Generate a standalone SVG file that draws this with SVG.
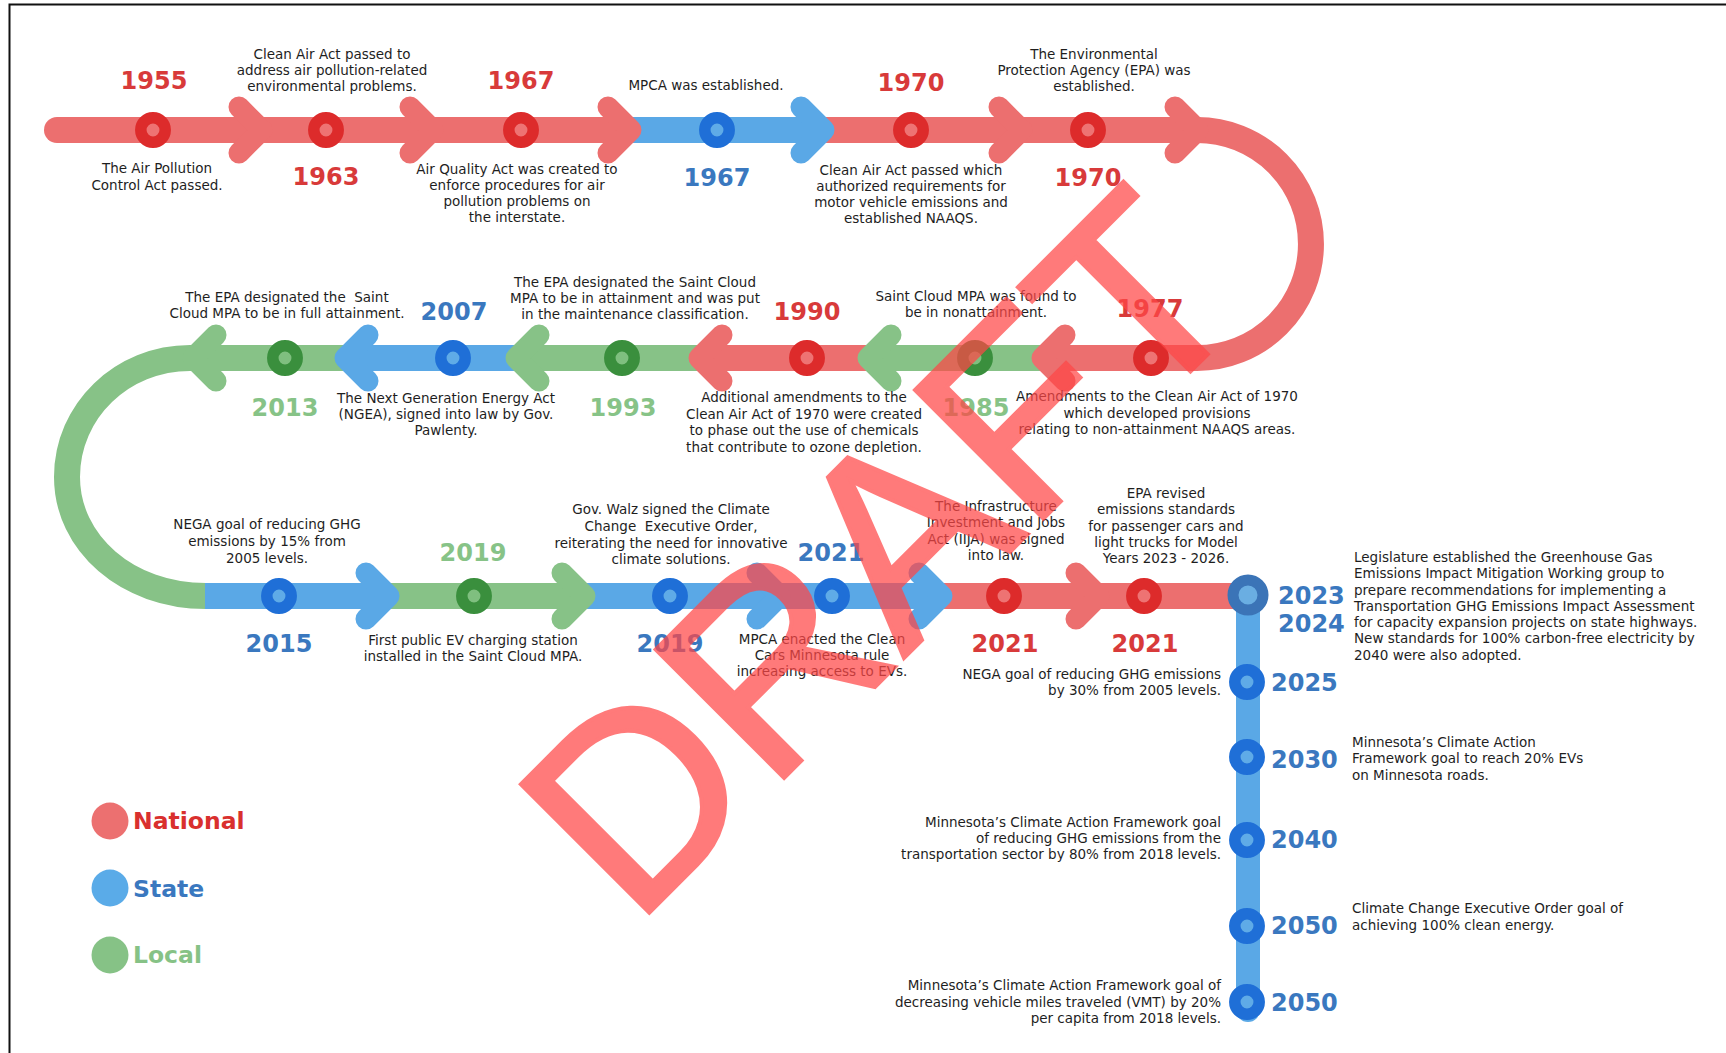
<svg xmlns="http://www.w3.org/2000/svg" width="1726" height="1053" viewBox="0 0 1726 1053">
<defs>
<style>
.t{font-family:"DejaVu Sans",Verdana,sans-serif;font-size:13.5px;fill:#1e1e1e;text-anchor:middle}
.l{text-anchor:start}.r{text-anchor:end}
.y{font-family:"DejaVu Sans",Verdana,sans-serif;font-weight:bold;font-size:24px;text-anchor:middle}
.ys{text-anchor:start}
.yr{fill:#d83a3a}.yb{fill:#3a78bf}.yg{fill:#87c387}
.seg{fill:none;stroke-width:26;stroke-linecap:butt}
.chev{fill:none;stroke-width:21;stroke-linecap:round;stroke-linejoin:round}
.R{stroke:#ec6f6f}.B{stroke:#5aa8e6}.G{stroke:#87c287}
.ringR{fill:#ee7373;stroke:#dd2b2b;stroke-width:11.5}
.ringB{fill:#5fabe7;stroke:#1f6fd7;stroke-width:11.5}
.ringG{fill:#7fbf7f;stroke:#3a8f3d;stroke-width:11.5}
.leg{font-family:"DejaVu Sans",Verdana,sans-serif;font-weight:bold;font-size:23.5px}
</style>
</defs>
<rect width="1726" height="1053" fill="#fff"/>
<path d="M9.5 1053 V4.5 H1726" fill="none" stroke="#111" stroke-width="2"/>

<g id="connectors">
  <!-- row 1 -->
  <path class="seg R" d="M57 130 H633" style="stroke-linecap:round"/>
  <path class="seg B" d="M633 130 H826"/>
  <path class="seg R" d="M826 130 H1198"/>
  <path class="seg R" d="M1197 130 A114 114 0 0 1 1197 358"/>
  <!-- row 2 -->
  <path class="seg R" d="M1198 358 H1040"/>
  <path class="seg G" d="M1040 358 H866"/>
  <path class="seg R" d="M866 358 H697"/>
  <path class="seg G" d="M697 358 H514"/>
  <path class="seg B" d="M514 358 H343"/>
  <path class="seg G" d="M343 358 H190 C122 358 67 411 67 477 C67 543 127 596 206 596"/>
  <!-- row 3 -->
  <path class="seg B" d="M205 596 H391"/>
  <path class="seg G" d="M391 596 H587"/>
  <path class="seg B" d="M587 596 H944"/>
  <path class="seg R" d="M944 596 H1248"/>
  <path class="seg B" d="M1248 596 V1010" style="stroke-width:24;stroke-linecap:round"/>
  <!-- chevrons row 1 -->
  <path class="chev R" d="M239 107 L262 130 L239 153"/>
  <path class="chev R" d="M410 107 L433 130 L410 153"/>
  <path class="chev R" d="M608 107 L631 130 L608 153"/>
  <path class="chev B" d="M801 107 L824 130 L801 153"/>
  <path class="chev R" d="M999 107 L1022 130 L999 153"/>
  <path class="chev R" d="M1175 107 L1198 130 L1175 153"/>
  <!-- chevrons row 2 (left) -->
  <path class="chev R" d="M1065 335 L1042 358 L1065 381"/>
  <path class="chev G" d="M891 335 L868 358 L891 381"/>
  <path class="chev R" d="M722 335 L699 358 L722 381"/>
  <path class="chev G" d="M539 335 L516 358 L539 381"/>
  <path class="chev B" d="M368 335 L345 358 L368 381"/>
  <path class="chev G" d="M216 335 L193 358 L216 381"/>
  <!-- chevrons row 3 -->
  <path class="chev B" d="M366 573 L389 596 L366 619"/>
  <path class="chev G" d="M562 573 L585 596 L562 619"/>
  <path class="chev B" d="M757 573 L780 596 L757 619"/>
  <path class="chev B" d="M919 573 L942 596 L919 619"/>
  <path class="chev R" d="M1076 573 L1099 596 L1076 619"/>
</g>

<!-- Row 1 -->
<g id="n1955">
  <circle class="ringR" cx="153" cy="130" r="12.2"/>
  <text class="y yr" x="154" y="89">1955</text>
  <text class="t" x="157" y="173">The Air Pollution</text>
  <text class="t" x="157" y="190">Control Act passed.</text>
</g>
<g id="n1963">
  <circle class="ringR" cx="326" cy="130" r="12.2"/>
  <text class="y yr" x="326" y="185">1963</text>
  <text class="t" x="332" y="59">Clean Air Act passed to</text>
  <text class="t" x="332" y="75">address air pollution-related</text>
  <text class="t" x="332" y="91">environmental problems.</text>
</g>
<g id="n1967a">
  <circle class="ringR" cx="521" cy="130" r="12.2"/>
  <text class="y yr" x="521" y="89">1967</text>
  <text class="t" x="517" y="174">Air Quality Act was created to</text>
  <text class="t" x="517" y="190">enforce procedures for air</text>
  <text class="t" x="517" y="206">pollution problems on</text>
  <text class="t" x="517" y="222">the interstate.</text>
</g>
<g id="n1967b">
  <circle class="ringB" cx="717" cy="130" r="12.2"/>
  <text class="y yb" x="717" y="186">1967</text>
  <text class="t" x="706" y="90">MPCA was established.</text>
</g>
<g id="n1970a">
  <circle class="ringR" cx="911" cy="130" r="12.2"/>
  <text class="y yr" x="911" y="91">1970</text>
  <text class="t" x="911" y="175">Clean Air Act passed which</text>
  <text class="t" x="911" y="191">authorized requirements for</text>
  <text class="t" x="911" y="207">motor vehicle emissions and</text>
  <text class="t" x="911" y="223">established NAAQS.</text>
</g>
<g id="n1970b">
  <circle class="ringR" cx="1088" cy="130" r="12.2"/>
  <text class="y yr" x="1088" y="186">1970</text>
  <text class="t" x="1094" y="59">The Environmental</text>
  <text class="t" x="1094" y="75">Protection Agency (EPA) was</text>
  <text class="t" x="1094" y="91">established.</text>
</g>

<!-- Row 2 -->
<g id="n1977">
  <circle class="ringR" cx="1151" cy="358" r="12.2"/>
  <text class="y yr" x="1150" y="317">1977</text>
  <text class="t" x="1157" y="401">Amendments to the Clean Air Act of 1970</text>
  <text class="t" x="1157" y="418">which developed provisions</text>
  <text class="t" x="1157" y="434">relating to non-attainment NAAQS areas.</text>
</g>
<g id="n1985">
  <circle class="ringG" cx="975" cy="358" r="12.2"/>
  <text class="y yg" x="976" y="416">1985</text>
  <text class="t" x="976" y="301">Saint Cloud MPA was found to</text>
  <text class="t" x="976" y="317">be in nonattainment.</text>
</g>
<g id="n1990">
  <circle class="ringR" cx="807" cy="358" r="12.2"/>
  <text class="y yr" x="807" y="320">1990</text>
  <text class="t" x="804" y="402">Additional amendments to the</text>
  <text class="t" x="804" y="419">Clean Air Act of 1970 were created</text>
  <text class="t" x="804" y="435">to phase out the use of chemicals</text>
  <text class="t" x="804" y="452">that contribute to ozone depletion.</text>
</g>
<g id="n1993">
  <circle class="ringG" cx="622" cy="358" r="12.2"/>
  <text class="y yg" x="623" y="416">1993</text>
  <text class="t" x="635" y="287">The EPA designated the Saint Cloud</text>
  <text class="t" x="635" y="303">MPA to be in attainment and was put</text>
  <text class="t" x="635" y="319">in the maintenance classification.</text>
</g>
<g id="n2007">
  <circle class="ringB" cx="453" cy="358" r="12.2"/>
  <text class="y yb" x="454" y="320">2007</text>
  <text class="t" x="446" y="403">The Next Generation Energy Act</text>
  <text class="t" x="446" y="419">(NGEA), signed into law by Gov.</text>
  <text class="t" x="446" y="435">Pawlenty.</text>
</g>
<g id="n2013">
  <circle class="ringG" cx="285" cy="358" r="12.2"/>
  <text class="y yg" x="285" y="416">2013</text>
  <text class="t" x="287" y="302" xml:space="preserve">The EPA designated the  Saint</text>
  <text class="t" x="287" y="318">Cloud MPA to be in full attainment.</text>
</g>

<!-- Row 3 -->
<g id="n2015">
  <circle class="ringB" cx="279" cy="596" r="12.2"/>
  <text class="y yb" x="279" y="652">2015</text>
  <text class="t" x="267" y="529">NEGA goal of reducing GHG</text>
  <text class="t" x="267" y="546">emissions by 15% from</text>
  <text class="t" x="267" y="563">2005 levels.</text>
</g>
<g id="n2019a">
  <circle class="ringG" cx="474" cy="596" r="12.2"/>
  <text class="y yg" x="473" y="561">2019</text>
  <text class="t" x="473" y="645">First public EV charging station</text>
  <text class="t" x="473" y="661">installed in the Saint Cloud MPA.</text>
</g>
<g id="n2019b">
  <circle class="ringB" cx="670" cy="596" r="12.2"/>
  <text class="y yb" x="670" y="652">2019</text>
  <text class="t" x="671" y="514">Gov. Walz signed the Climate</text>
  <text class="t" x="671" y="531" xml:space="preserve">Change  Executive Order,</text>
  <text class="t" x="671" y="548">reiterating the need for innovative</text>
  <text class="t" x="671" y="564">climate solutions.</text>
</g>
<g id="n2021a">
  <circle class="ringB" cx="832" cy="596" r="12.2"/>
  <text class="y yb" x="831" y="561">2021</text>
  <text class="t" x="822" y="644">MPCA enacted the Clean</text>
  <text class="t" x="822" y="660">Cars Minnesota rule</text>
  <text class="t" x="822" y="676">increasing access to EVs.</text>
</g>
<g id="n2021b">
  <circle class="ringR" cx="1004" cy="596" r="12.2"/>
  <text class="y yr" x="1005" y="652">2021</text>
  <text class="t" x="996" y="511">The Infrastructure</text>
  <text class="t" x="996" y="527">Investment and Jobs</text>
  <text class="t" x="996" y="544">Act (IIJA) was signed</text>
  <text class="t" x="996" y="560">into law.</text>
</g>
<g id="n2021c">
  <circle class="ringR" cx="1144" cy="596" r="12.2"/>
  <text class="y yr" x="1145" y="652">2021</text>
  <text class="t" x="1166" y="498">EPA revised</text>
  <text class="t" x="1166" y="514">emissions standards</text>
  <text class="t" x="1166" y="531">for passenger cars and</text>
  <text class="t" x="1166" y="547">light trucks for Model</text>
  <text class="t" x="1166" y="563">Years 2023 - 2026.</text>
</g>

<!-- Vertical -->
<g id="n2023">
  <circle cx="1248" cy="595" r="15" fill="#6aaee2" stroke="#3b74b7" stroke-width="11"/>
  <text class="y yb ys" x="1278" y="604">2023</text>
  <text class="y yb ys" x="1278" y="632">2024</text>
  <text class="t l" x="1354" y="562">Legislature established the Greenhouse Gas</text>
  <text class="t l" x="1354" y="578">Emissions Impact Mitigation Working group to</text>
  <text class="t l" x="1354" y="595">prepare recommendations for implementing a</text>
  <text class="t l" x="1354" y="611">Transportation GHG Emissions Impact Assessment</text>
  <text class="t l" x="1354" y="627">for capacity expansion projects on state highways.</text>
  <text class="t l" x="1354" y="643">New standards for 100% carbon-free electricity by</text>
  <text class="t l" x="1354" y="660">2040 were also adopted.</text>
</g>
<g id="n2025">
  <circle class="ringB" cx="1247" cy="682" r="12.2"/>
  <text class="y yb ys" x="1271" y="691">2025</text>
  <text class="t r" x="1221" y="679">NEGA goal of reducing GHG emissions</text>
  <text class="t r" x="1221" y="695">by 30% from 2005 levels.</text>
</g>
<g id="n2030">
  <circle class="ringB" cx="1247" cy="757" r="12.2"/>
  <text class="y yb ys" x="1271" y="768">2030</text>
  <text class="t l" x="1352" y="747">Minnesota’s Climate Action</text>
  <text class="t l" x="1352" y="763">Framework goal to reach 20% EVs</text>
  <text class="t l" x="1352" y="780">on Minnesota roads.</text>
</g>
<g id="n2040">
  <circle class="ringB" cx="1247" cy="840" r="12.2"/>
  <text class="y yb ys" x="1271" y="848">2040</text>
  <text class="t r" x="1221" y="827">Minnesota’s Climate Action Framework goal</text>
  <text class="t r" x="1221" y="843">of reducing GHG emissions from the</text>
  <text class="t r" x="1221" y="859">transportation sector by 80% from 2018 levels.</text>
</g>
<g id="n2050a">
  <circle class="ringB" cx="1247" cy="926" r="12.2"/>
  <text class="y yb ys" x="1271" y="934">2050</text>
  <text class="t l" x="1352" y="913">Climate Change Executive Order goal of</text>
  <text class="t l" x="1352" y="930">achieving 100% clean energy.</text>
</g>
<g id="n2050b">
  <circle class="ringB" cx="1247" cy="1002" r="12.2"/>
  <text class="y yb ys" x="1271" y="1011">2050</text>
  <text class="t r" x="1221" y="990">Minnesota’s Climate Action Framework goal of</text>
  <text class="t r" x="1221" y="1007">decreasing vehicle miles traveled (VMT) by 20%</text>
  <text class="t r" x="1221" y="1023">per capita from 2018 levels.</text>
</g>

<!-- Legend -->
<g id="legend">
  <circle cx="110" cy="821" r="18.5" fill="#ec7070"/>
  <text class="leg" x="133" y="829" fill="#d9302e">National</text>
  <circle cx="110" cy="888" r="18.5" fill="#5aabe8"/>
  <text class="leg" x="133" y="897" fill="#3a78bf">State</text>
  <circle cx="110" cy="955" r="18.5" fill="#86c286"/>
  <text class="leg" x="133" y="963" fill="#86c286">Local</text>
</g>

<!-- Watermark -->
<g id="watermark" opacity="0.72">
  <text x="0" y="0" transform="translate(634,928) rotate(-45)" font-family="Liberation Sans, Arial, sans-serif" font-size="264" fill="#ff4747" stroke="#ff4747" stroke-width="4" stroke-linejoin="miter">DRAFT</text>
</g>
</svg>
